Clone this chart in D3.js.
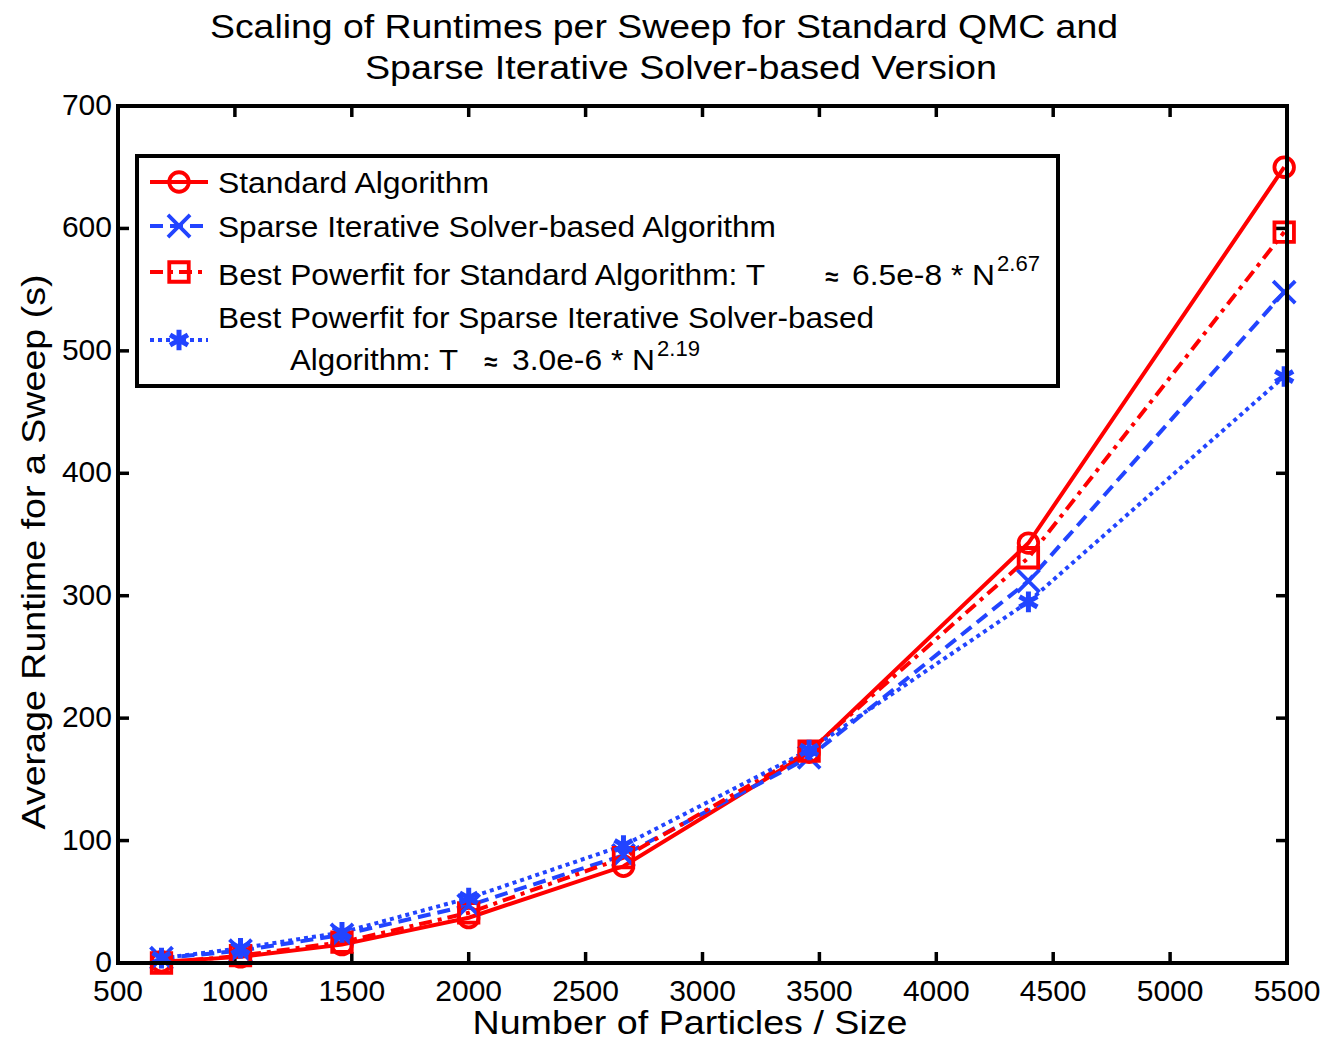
<!DOCTYPE html>
<html>
<head>
<meta charset="utf-8">
<script src="https://cdn.jsdelivr.net/npm/d3@7"></script>
<style>
  body { margin: 0; background: #fff; }
  text { font-family: "Liberation Sans", Arial, sans-serif; fill: #000; }
</style>
</head>
<body>
<script>
// particle counts (2*L^3)
const particles = [686, 1024, 1458, 2000, 2662, 3456, 4394, 5488];
// average runtime per sweep (s)
const standardAlg = [1, 5, 15, 37, 79, 172, 343, 650];
const sparseAlg = [4, 10, 23, 47, 88, 168, 312, 548];
const fitStandard = [0, 6, 17, 41, 86, 173, 331, 597];
const fitSparse = [4, 12, 25, 53, 96, 174, 295, 479];

const xTicks = [500, 1000, 1500, 2000, 2500, 3000, 3500, 4000, 4500, 5000, 5500];
const yTicks = [0, 100, 200, 300, 400, 500, 600, 700];

const w = 1331;
const h = 1042;
const red = "#ff0000";
const blue = "#2244ff";

const svg = d3.select("body").append("svg").attr("width", w).attr("height", h);

const x = d3.scaleLinear().domain([500, 5500]).range([118, 1287]);
const y = d3.scaleLinear().domain([0, 700]).range([963, 106]);

// series description
const series = [
  { values: standardAlg, color: red, dash: null, marker: d3.symbolCircle, size: 300 },
  { values: sparseAlg, color: blue, dash: "13,7", marker: d3.symbolTimes, size: 320 },
  { values: fitStandard, color: red, dash: "13,6,4,6", marker: d3.symbolSquare, size: 380 },
  { values: fitSparse, color: blue, dash: "4,4", marker: d3.symbolAsterisk, size: 300 }
];

// ticks, inward on all four sides
const tickLen = 11;
const ticks = svg.append("g").attr("stroke", "#000").attr("stroke-width", 3.5);
xTicks.forEach((t) => {
  ticks.append("line").attr("x1", x(t)).attr("x2", x(t)).attr("y1", y(0)).attr("y2", y(0) - tickLen);
  ticks.append("line").attr("x1", x(t)).attr("x2", x(t)).attr("y1", y(700)).attr("y2", y(700) + tickLen);
});
yTicks.forEach((t) => {
  ticks.append("line").attr("x1", x(500)).attr("x2", x(500) + tickLen).attr("y1", y(t)).attr("y2", y(t));
  ticks.append("line").attr("x1", x(5500)).attr("x2", x(5500) - tickLen).attr("y1", y(t)).attr("y2", y(t));
});

// tick labels
svg.append("g").selectAll("text").data(xTicks).join("text")
  .attr("x", (d) => x(d)).attr("y", 1001)
  .attr("text-anchor", "middle").attr("font-size", 30)
  .text((d) => d);
svg.append("g").selectAll("text").data(yTicks).join("text")
  .attr("x", 112).attr("y", (d) => y(d) + 9)
  .attr("text-anchor", "end").attr("font-size", 30)
  .text((d) => d);

// lines
const line = d3.line().x((d, i) => x(particles[i])).y((d) => y(d));

const plot = svg.append("g");
series.forEach((s) => {
  plot.append("path")
    .datum(s.values)
    .attr("d", line)
    .attr("fill", "none")
    .attr("stroke", s.color)
    .attr("stroke-width", 4)
    .attr("stroke-dasharray", s.dash);
});
series.forEach((s) => {
  plot.append("g").selectAll("path").data(s.values).join("path")
    .attr("transform", (d, i) => `translate(${x(particles[i])},${y(d)})`)
    .attr("d", d3.symbol(s.marker, s.size))
    .attr("fill", "none")
    .attr("stroke", s.color)
    .attr("stroke-width", s.marker === d3.symbolAsterisk ? 5 : 3.8);
});

// axes box
svg.append("rect")
  .attr("x", x(500)).attr("y", y(700))
  .attr("width", x(5500) - x(500)).attr("height", y(0) - y(700))
  .attr("fill", "none").attr("stroke", "#000").attr("stroke-width", 4);

// title
svg.append("text").attr("x", 664).attr("y", 38).attr("text-anchor", "middle")
  .attr("font-size", 34).attr("textLength", 908).attr("lengthAdjust", "spacingAndGlyphs")
  .text("Scaling of Runtimes per Sweep for Standard QMC and");
svg.append("text").attr("x", 681).attr("y", 79).attr("text-anchor", "middle")
  .attr("font-size", 34).attr("textLength", 632).attr("lengthAdjust", "spacingAndGlyphs")
  .text("Sparse Iterative Solver-based Version");

// axis labels
svg.append("text").attr("x", 690).attr("y", 1034).attr("text-anchor", "middle")
  .attr("font-size", 33).attr("textLength", 435).attr("lengthAdjust", "spacingAndGlyphs")
  .text("Number of Particles / Size");
svg.append("text")
  .attr("transform", "translate(45,552) rotate(-90)")
  .attr("text-anchor", "middle")
  .attr("font-size", 34).attr("textLength", 555).attr("lengthAdjust", "spacingAndGlyphs")
  .text("Average Runtime for a Sweep (s)");

// legend
const legend = svg.append("g");
legend.append("rect")
  .attr("x", 137).attr("y", 156).attr("width", 921).attr("height", 230)
  .attr("fill", "#fff").attr("stroke", "#000").attr("stroke-width", 4);

const legendRows = [182, 226, 272, 340];
series.forEach((s, i) => {
  const ly = legendRows[i];
  legend.append("line")
    .attr("x1", 150).attr("x2", 208).attr("y1", ly).attr("y2", ly)
    .attr("stroke", s.color).attr("stroke-width", 4)
    .attr("stroke-dasharray", s.dash);
  legend.append("path")
    .attr("transform", `translate(179,${ly})`)
    .attr("d", d3.symbol(s.marker, s.size))
    .attr("fill", "none").attr("stroke", s.color)
    .attr("stroke-width", s.marker === d3.symbolAsterisk ? 5 : 3.8);
});

function legendText(tx, ty, str, len, size) {
  const t = legend.append("text").attr("x", tx).attr("y", ty)
    .attr("font-size", size || 30).text(str);
  if (len) t.attr("textLength", len).attr("lengthAdjust", "spacingAndGlyphs");
  return t;
}

legendText(218, 193, "Standard Algorithm", 271);
legendText(218, 237, "Sparse Iterative Solver-based Algorithm", 558);
legendText(218, 285, "Best Powerfit for Standard Algorithm: T", 547);
legendText(825, 285, "\u2248", null, 24).attr("font-weight", "bold");
legendText(852, 285, "6.5e-8 * N", 143);
legendText(997, 271, "2.67", 43, 22);
legendText(218, 328, "Best Powerfit for Sparse Iterative Solver-based", 656);
legendText(290, 370, "Algorithm: T", 168);
legendText(484, 370, "\u2248", null, 24).attr("font-weight", "bold");
legendText(512, 370, "3.0e-6 * N", 143);
legendText(657, 356, "2.19", 43, 22);
</script>
</body>
</html>
